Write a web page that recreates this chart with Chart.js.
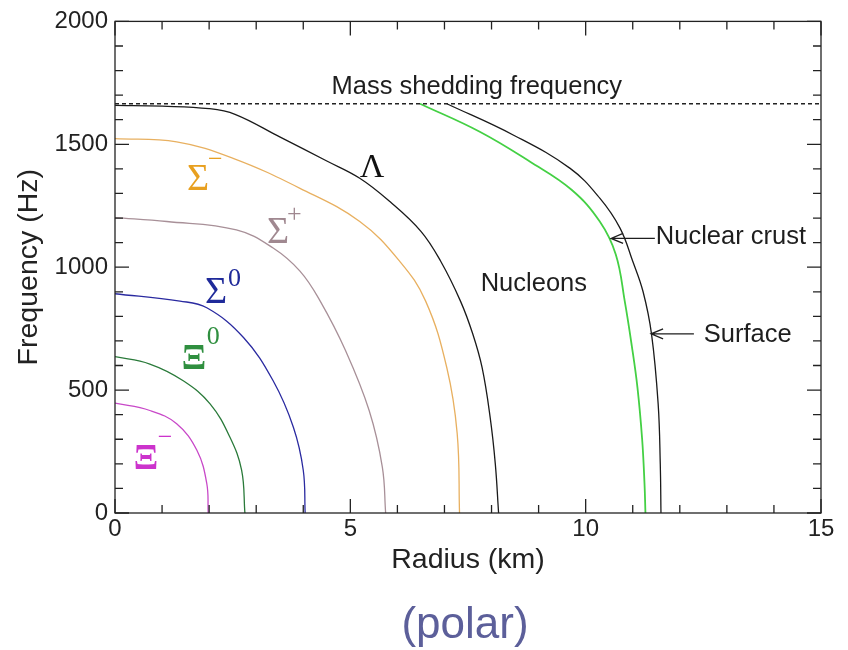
<!DOCTYPE html>
<html lang="en">
<head>
<meta charset="UTF-8">
<title>Frequency vs radius (polar)</title>
<style>
  body { margin: 0; background: #fff; }
  .wrap { position: relative; width: 848px; height: 650px; }
  #polar {
    position: absolute; left: 0; top: 597px; width: 930px; text-align: center;
    font: 44px/52px "Liberation Sans", Arial, sans-serif; color: #5c5f9a;
  }
</style>
</head>
<body>
<div class="wrap">
  <canvas id="chart1" width="848" height="650"></canvas>
  <div id="polar">(polar)</div>
</div>
<script src="https://cdn.jsdelivr.net/npm/chart.js"></script>
<script>
// radius (km) / frequency (Hz)
const xiMinusR = [0, 0.74, 1.31, 1.74, 1.95, 1.98];
const xiMinusF = [447, 417, 363, 255, 120, 0];

const xiZeroR = [0, 0.74, 1.45, 2.02, 2.44, 2.69, 2.76];
const xiZeroF = [636, 606, 538, 444, 309, 174, 0];

const sigmaZeroR = [0, 1.38, 1.95, 2.73, 3.36, 3.79, 4.0, 4.04];
const sigmaZeroF = [892, 862, 835, 714, 538, 349, 174, 0];

const sigmaPlusR = [0, 1.1, 2.58, 3.36, 3.93, 4.36, 4.9, 5.4, 5.68, 5.75];
const sigmaPlusF = [1202, 1186, 1152, 1078, 984, 862, 660, 417, 187, 0];

const sigmaMinusR = [0, 1.31, 2.51, 3.93, 5.2, 6.05, 6.6, 7.05, 7.27, 7.32];
const sigmaMinusF = [1523, 1510, 1443, 1321, 1186, 1024, 862, 591, 324, 0];

const lambdaR = [0, 1, 2, 2.55, 3.5, 4.5, 5.2, 5.84, 6.5, 6.92, 7.34, 7.6, 7.8, 7.97, 8.08, 8.15];
const lambdaF = [1658, 1655, 1645, 1622, 1530, 1432, 1362, 1267, 1146, 1024, 862, 729, 591, 390, 200, 0];

const crustR = [6.48, 7.75, 8.82, 9.7, 10.3, 10.64, 10.83, 10.98, 11.1, 11.2, 11.25, 11.27];
const crustF = [1665, 1551, 1429, 1315, 1186, 1052, 862, 680, 511, 300, 120, 0];

const surfaceR = [7.05, 8.46, 9.67, 10.3, 10.73, 11.0, 11.22, 11.4, 11.54, 11.585, 11.6];
const surfaceF = [1665, 1538, 1402, 1281, 1159, 1024, 900, 727, 444, 200, 0];

const sheddingR = [0, 15];
const sheddingF = [1665, 1665];

const xTicks = [0, 5, 10, 15];
const yTicks = [0, 500, 1000, 1500, 2000];
const xMinor = 1;
const yMinor = 100;

// text labels, placed in data coordinates
const notes = [
  { text: 'Mass shedding frequency', r: 4.6, f: 1704 },
  { text: 'Nucleons', r: 7.77, f: 903 },
  { text: 'Nuclear crust', r: 11.49, f: 1094 },
  { text: 'Surface', r: 12.51, f: 697 }
];
const arrows = [
  { r0: 11.47, r1: 10.54, f: 1117 },
  { r0: 12.3, r1: 11.39, f: 729 }
];
const greek = [
  { main: 'Λ', sup: '', r: 5.2, f: 1368, color: '#111', size: 34 },
  { main: 'Σ', sup: '−', r: 1.53, f: 1316, color: '#e8a020', dx: 21, dy: -23 },
  { main: 'Σ', sup: '+', r: 3.23, f: 1097, color: '#a08890', dx: 20, dy: -21 },
  { main: 'Σ', sup: '0', r: 1.91, f: 854, color: '#1f2a9a', dx: 23, dy: -17 },
  { main: 'Ξ', sup: '0', r: 1.42, f: 587, color: '#2f8f3f', dx: 25, dy: -25, size: 36, bold: true },
  { main: 'Ξ', sup: '−', r: 0.40, f: 178, color: '#cc33cc', dx: 24, dy: -24, size: 36, bold: true }
];

const sans = '"Liberation Sans", Arial, sans-serif';
const serif = '"Liberation Serif", "Times New Roman", serif';

function curve(r, f, color, width) {
  return {
    data: r.map((v, i) => ({ x: v, y: f[i] })),
    borderColor: color,
    borderWidth: width || 1.3,
    showLine: true,
    pointRadius: 0,
    fill: false,
    tension: 0.4
  };
}

var shedding = curve(sheddingR, sheddingF, '#222', 1.3);
shedding.borderDash = [4, 3];
shedding.tension = 0;

// frame + inward ticks on all four sides
const frame = {
  id: 'frame',
  afterDatasetsDraw(chart) {
    const { ctx, chartArea: a, scales: { x, y } } = chart;
    ctx.save();
    ctx.strokeStyle = '#222';
    ctx.lineWidth = 1.3;
    ctx.strokeRect(a.left, a.top, a.width, a.height);
    ctx.beginPath();
    for (let v = 0; v <= 15; v += xMinor) {
      const len = v % 5 ? 8 : 14;
      const px = x.getPixelForValue(v);
      ctx.moveTo(px, a.bottom); ctx.lineTo(px, a.bottom - len);
      ctx.moveTo(px, a.top); ctx.lineTo(px, a.top + len);
    }
    for (let v = 0; v <= 2000; v += yMinor) {
      const len = v % 500 ? 8 : 14;
      const py = y.getPixelForValue(v);
      ctx.moveTo(a.left, py); ctx.lineTo(a.left + len, py);
      ctx.moveTo(a.right, py); ctx.lineTo(a.right - len, py);
    }
    ctx.stroke();
    ctx.restore();
  }
};

const labels = {
  id: 'labels',
  afterDraw(chart) {
    const { ctx, scales: { x, y } } = chart;
    ctx.save();
    ctx.fillStyle = '#1e1e1e';
    ctx.font = '25.5px ' + sans;
    ctx.textAlign = 'left';
    ctx.textBaseline = 'alphabetic';
    notes.forEach(n => ctx.fillText(n.text, x.getPixelForValue(n.r), y.getPixelForValue(n.f)));

    ctx.strokeStyle = '#1e1e1e';
    ctx.lineWidth = 1.3;
    arrows.forEach(ar => {
      const x0 = x.getPixelForValue(ar.r0), x1 = x.getPixelForValue(ar.r1), py = y.getPixelForValue(ar.f);
      ctx.beginPath();
      ctx.moveTo(x0, py); ctx.lineTo(x1, py);
      ctx.moveTo(x1 + 12, py - 5); ctx.lineTo(x1, py); ctx.lineTo(x1 + 12, py + 5);
      ctx.stroke();
    });

    greek.forEach(g => {
      const px = x.getPixelForValue(g.r), py = y.getPixelForValue(g.f);
      ctx.fillStyle = g.color;
      ctx.font = (g.bold ? 'bold ' : '') + (g.size || 38) + 'px ' + serif;
      ctx.fillText(g.main, px, py);
      if (g.sup) {
        ctx.font = '26px ' + serif;
        ctx.fillText(g.sup, px + g.dx, py + g.dy);
      }
    });
    ctx.restore();
  }
};

const ctx = document.getElementById('chart1');

const chart1 = new Chart(ctx, {
  type: 'scatter',
  data: {
    datasets: [
      shedding,
      curve(xiMinusR, xiMinusF, '#c848c8'),
      curve(xiZeroR, xiZeroF, '#2a7a3a'),
      curve(sigmaZeroR, sigmaZeroF, '#2a2aa0'),
      curve(sigmaPlusR, sigmaPlusF, '#a89098'),
      curve(sigmaMinusR, sigmaMinusF, '#e8b060'),
      curve(lambdaR, lambdaF, '#1a1a1a'),
      curve(crustR, crustF, '#44d044', 1.8),
      curve(surfaceR, surfaceF, '#1a1a1a')
    ]
  },
  options: {
    responsive: false,
    animation: false,
    layout: { padding: { left: 0, right: 27, top: 19, bottom: 0 } },
    plugins: { legend: { display: false }, tooltip: { enabled: false } },
    scales: {
      x: {
        type: 'linear', min: 0, max: 15,
        afterBuildTicks: s => { s.ticks = xTicks.map(v => ({ value: v })); },
        afterFit: s => { s.height = 137; },
        grid: { display: false, drawTicks: false },
        border: { display: false },
        ticks: { color: '#222', padding: 2, maxRotation: 0, font: { family: sans, size: 24 }, callback: v => String(v) },
        title: { display: true, text: 'Radius (km)', color: '#222', font: { family: sans, size: 28.5 }, padding: { top: 0, bottom: 73 } }
      },
      y: {
        type: 'linear', min: 0, max: 2000,
        afterBuildTicks: s => { s.ticks = yTicks.map(v => ({ value: v })); },
        afterFit: s => { s.width = 115; },
        grid: { display: false, drawTicks: false },
        border: { display: false },
        ticks: { color: '#222', padding: 7, font: { family: sans, size: 24 }, callback: v => String(v) },
        title: { display: true, text: 'Frequency (Hz)', color: '#222', font: { family: sans, size: 28.5 }, padding: { top: 12, bottom: 0 } }
      }
    }
  },
  plugins: [frame, labels]
});
</script>
</body>
</html>
